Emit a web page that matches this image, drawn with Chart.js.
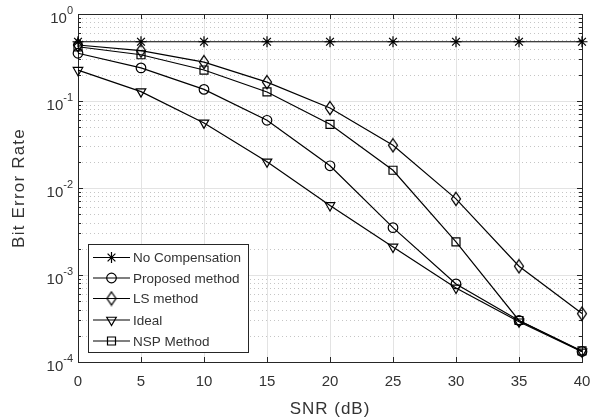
<!DOCTYPE html>
<html>
<head>
<meta charset="utf-8">
<script src="https://cdn.jsdelivr.net/npm/chart.js@4/dist/chart.umd.min.js"></script>
<style>
html,body{margin:0;padding:0;background:#fff;}
#wrap{width:603px;height:420px;}
</style>
</head>
<body>
<div id="wrap"><canvas id="c" width="603" height="420"></canvas></div>
<script>
// ---- data ----
const snr = [0, 5, 10, 15, 20, 25, 30, 35, 40];
const noCompensation = [0.48, 0.48, 0.48, 0.48, 0.48, 0.48, 0.48, 0.48, 0.48];
const proposedMethod = [0.354, 0.24, 0.136, 0.06, 0.018, 0.0035, 0.00079, 0.0003, 0.000132];
const lsMethod = [0.44, 0.38, 0.28, 0.165, 0.083, 0.031, 0.0075, 0.00126, 0.00036];
const ideal = [0.226, 0.128, 0.056, 0.02, 0.0063, 0.0021, 0.00071, 0.00029, 0.000131];
const nspMethod = [0.42, 0.34, 0.227, 0.127, 0.054, 0.016, 0.0024, 0.0003, 0.000134];
const xTicks = [0, 5, 10, 15, 20, 25, 30, 35, 40];
const yExponents = [0, -1, -2, -3, -4];
const seriesNames = ['No Compensation', 'Proposed method', 'LS method', 'Ideal', 'NSP Method'];
const xTitle = 'SNR (dB)';
const yTitle = 'Bit Error Rate';

const FONT = '"Liberation Sans", Arial, Helvetica, sans-serif';
const TXT = '#333333';
const LW = 1.2;

// MATLAB-like diamond marker (taller than wide)
function diamondMarker() {
  const c = document.createElement('canvas');
  c.width = 12; c.height = 16;
  const g = c.getContext('2d');
  g.strokeStyle = '#000';
  g.lineWidth = 1.3;
  g.beginPath();
  g.moveTo(6, 1.5); g.lineTo(10.5, 8); g.lineTo(6, 14.5); g.lineTo(1.5, 8); g.closePath();
  g.stroke();
  return c;
}
const diamond = diamondMarker();

function mk(label, data, style, radius, rot) {
  return {
    label: label,
    data: snr.map((x, i) => ({x: x, y: data[i]})),
    borderColor: '#000',
    backgroundColor: '#fff',
    borderWidth: LW,
    pointStyle: style,
    pointRadius: radius,
    pointRotation: rot || 0,
    pointBorderColor: '#000',
    pointBackgroundColor: 'rgba(255,255,255,0)',
    pointBorderWidth: LW,
    fill: false,
    tension: 0,
    clip: false
  };
}

const datasets = [
  mk(seriesNames[0], noCompensation, 'star', 5.5),
  mk(seriesNames[1], proposedMethod, 'circle', 4.8),
  mk(seriesNames[2], lsMethod, diamond, 6),
  mk(seriesNames[3], ideal, 'triangle', 5.5, 180),
  mk(seriesNames[4], nspMethod, 'rect', 5.66)
];

const decorPlugin = {
  id: 'decor',
  beforeDatasetsDraw(chart) {
    const ctx = chart.ctx;
    const a = chart.chartArea;
    const xs = chart.scales.x, ys = chart.scales.y;
    ctx.save();
    // minor y grid (dotted)
    ctx.strokeStyle = 'rgba(150,150,150,0.55)';
    ctx.lineWidth = 1;
    ctx.setLineDash([1, 3]);
    for (let e = -4; e < 0; e++) {
      for (let k = 2; k <= 9; k++) {
        const y = Math.round(ys.getPixelForValue(k * Math.pow(10, e))) + 0.5;
        ctx.beginPath(); ctx.moveTo(a.left, y); ctx.lineTo(a.right, y); ctx.stroke();
      }
    }
    ctx.setLineDash([]);
    // major grid
    ctx.strokeStyle = '#e3e3e3';
    yExponents.forEach(e => {
      const y = Math.round(ys.getPixelForValue(Math.pow(10, e))) + 0.5;
      ctx.beginPath(); ctx.moveTo(a.left, y); ctx.lineTo(a.right, y); ctx.stroke();
    });
    xTicks.forEach(v => {
      const x = Math.round(xs.getPixelForValue(v)) + 0.5;
      ctx.beginPath(); ctx.moveTo(x, a.top); ctx.lineTo(x, a.bottom); ctx.stroke();
    });
    // box
    ctx.strokeStyle = '#262626';
    ctx.lineWidth = 1;
    ctx.strokeRect(Math.round(a.left) + 0.5, Math.round(a.top) + 0.5, Math.round(a.right - a.left), Math.round(a.bottom - a.top));
    // ticks
    ctx.beginPath();
    xTicks.forEach(v => {
      const x = Math.round(xs.getPixelForValue(v)) + 0.5;
      ctx.moveTo(x, a.bottom); ctx.lineTo(x, a.bottom - 5);
      ctx.moveTo(x, a.top); ctx.lineTo(x, a.top + 5);
    });
    yExponents.forEach(e => {
      const y = Math.round(ys.getPixelForValue(Math.pow(10, e))) + 0.5;
      ctx.moveTo(a.left, y); ctx.lineTo(a.left + 5, y);
      ctx.moveTo(a.right, y); ctx.lineTo(a.right - 5, y);
    });
    for (let e = -4; e < 0; e++) {
      for (let k = 2; k <= 9; k++) {
        const y = Math.round(ys.getPixelForValue(k * Math.pow(10, e))) + 0.5;
        ctx.moveTo(a.left, y); ctx.lineTo(a.left + 3, y);
        ctx.moveTo(a.right, y); ctx.lineTo(a.right - 3, y);
      }
    }
    ctx.stroke();
    // x tick labels
    ctx.fillStyle = TXT;
    ctx.font = '15px ' + FONT;
    ctx.textAlign = 'center';
    ctx.textBaseline = 'middle';
    xTicks.forEach(v => {
      ctx.fillText(String(v), xs.getPixelForValue(v), a.bottom + 20);
    });
    // y tick labels with superscript
    yExponents.forEach(e => {
      const y = ys.getPixelForValue(Math.pow(10, e));
      const exp = String(e);
      ctx.font = '11px ' + FONT;
      const ew = ctx.measureText(exp).width;
      ctx.textAlign = 'left';
      const right = a.left - 5;
      ctx.fillText(exp, right - ew, y - 3);
      ctx.font = '15px ' + FONT;
      ctx.textAlign = 'right';
      ctx.fillText('10', right - ew, y + 5);
    });
    // axis titles
    ctx.font = '17px ' + FONT;
    ctx.textAlign = 'center';
    try { ctx.letterSpacing = '1px'; } catch (err) {}
    ctx.fillText(xTitle, (a.left + a.right) / 2, 409);
    ctx.save();
    ctx.translate(19, (a.top + a.bottom) / 2);
    ctx.rotate(-Math.PI / 2);
    try { ctx.letterSpacing = '1.2px'; } catch (err) {}
    ctx.fillText(yTitle, 0, 0);
    ctx.restore();
    try { ctx.letterSpacing = '0px'; } catch (err) {}
    ctx.restore();
  },
  afterDatasetsDraw(chart) {
    const ctx = chart.ctx;
    ctx.save();
    const bx = 88.5, by = 244.5, bw = 160, bh = 108;
    ctx.fillStyle = '#fff';
    ctx.fillRect(bx, by, bw, bh);
    ctx.strokeStyle = '#262626';
    ctx.lineWidth = 1;
    ctx.strokeRect(bx, by, bw, bh);
    const rowY = [257.5, 278, 298.5, 320, 341];
    chart.data.datasets.forEach((ds, i) => {
      const y = rowY[i];
      ctx.strokeStyle = '#000';
      ctx.lineWidth = LW;
      ctx.beginPath(); ctx.moveTo(93, y); ctx.lineTo(130, y); ctx.stroke();
      ctx.beginPath();
      ctx.fillStyle = 'rgba(255,255,255,0)';
      Chart.helpers.drawPoint(ctx, {
        pointStyle: ds.pointStyle, rotation: ds.pointRotation, radius: ds.pointRadius, borderWidth: LW
      }, 111.5, y);
      ctx.fillStyle = TXT;
      ctx.font = '13.5px ' + FONT;
      ctx.textAlign = 'left';
      ctx.textBaseline = 'middle';
      ctx.fillText(ds.label, 133, y + 1);
    });
    ctx.restore();
  }
};

new Chart(document.getElementById('c'), {
  type: 'line',
  data: {datasets: datasets},
  options: {
    responsive: false,
    animation: false,
    devicePixelRatio: 1,
    layout: {padding: {top: 14, right: 21, left: 0, bottom: 0}},
    plugins: {legend: {display: false}, tooltip: {enabled: false}},
    scales: {
      x: {
        type: 'linear', min: 0, max: 40,
        ticks: {display: false, stepSize: 5},
        grid: {display: false}, border: {display: false},
        afterFit(s) { s.height = 58; }
      },
      y: {
        type: 'logarithmic', min: 1e-4, max: 1,
        ticks: {display: false},
        grid: {display: false}, border: {display: false},
        afterFit(s) { s.width = 78; }
      }
    }
  },
  plugins: [decorPlugin]
});
</script>
</body>
</html>
